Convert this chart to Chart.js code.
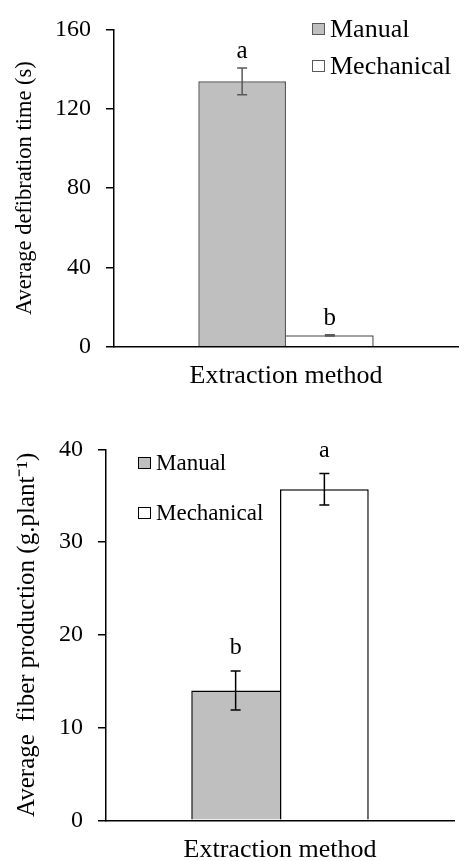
<!DOCTYPE html>
<html>
<head>
<meta charset="utf-8">
<script src="https://cdn.jsdelivr.net/npm/chart.js@4/dist/chart.umd.min.js"></script>
<style>
  html, body { margin: 0; padding: 0; background: #fff; overflow: hidden; }
  canvas { position: absolute; left: 0; }
  #timeChart { top: 0; }
  #fiberChart { top: 420px; }
</style>
</head>
<body>
<canvas id="timeChart" width="459" height="400"></canvas>
<canvas id="fiberChart" width="459" height="446"></canvas>
<script>
const methods = ['Manual', 'Mechanical'];
const fills = ['#bfbfbf', '#ffffff'];

// defibration time (s)
const timeValues = [133.8, 5.8];
const timeErrors = [6.7, 0.3];
const timeLetters = ['a', 'b'];
const timeTicks = [0, 40, 80, 120, 160];

// fiber production (g per plant)
const fiberValues = [14.0, 35.7];
const fiberErrors = [2.1, 1.7];
const fiberLetters = ['b', 'a'];
const fiberTicks = [0, 10, 20, 30, 40];

const serif = "'Liberation Serif', 'Times New Roman', serif";
const ink = '#000';

// error bars, significance letters and the little legend
const extras = {
    id: 'extras',
    afterDatasetsDraw(chart, args, opts) {
        const ctx = chart.ctx;
        const y = chart.scales.y;
        ctx.save();
        chart.data.datasets.forEach((ds, i) => {
            const bar = chart.getDatasetMeta(i).data[0];
            const v = ds.data[0];
            const e = opts.errors[i];
            const top = y.getPixelForValue(v + e);
            const bot = y.getPixelForValue(v - e);
            ctx.strokeStyle = opts.lineColor;
            ctx.lineWidth = 1.5;
            ctx.beginPath();
            ctx.moveTo(bar.x, top); ctx.lineTo(bar.x, bot);
            ctx.moveTo(bar.x - 5, top); ctx.lineTo(bar.x + 5, top);
            ctx.moveTo(bar.x - 5, bot); ctx.lineTo(bar.x + 5, bot);
            ctx.stroke();

            ctx.fillStyle = ink;
            ctx.font = opts.letterSize + 'px ' + serif;
            ctx.textAlign = 'center';
            ctx.textBaseline = 'alphabetic';
            ctx.fillText(opts.letters[i], bar.x, top - opts.letterGap);
        });

        const lg = opts.legend;
        ctx.font = lg.size + 'px ' + serif;
        ctx.textAlign = 'left';
        ctx.textBaseline = 'middle';
        chart.data.datasets.forEach((ds, i) => {
            const cy = lg.y + i * lg.step;
            ctx.fillStyle = ds.backgroundColor;
            ctx.fillRect(lg.x, cy - 6, 13, 12);
            ctx.strokeStyle = opts.lineColor;
            ctx.lineWidth = 1;
            ctx.strokeRect(lg.x + 0.5, cy - 5.5, 12, 11);
            ctx.fillStyle = ink;
            ctx.fillText(ds.label, lg.x + 18, cy + 1);
        });
        ctx.restore();
    }
};

function makeChart(id, values, ticks, opts) {
    const ctx = document.getElementById(id).getContext('2d');
    const w = opts.barBorder;
    // the taller bar owns the edge the two bars share
    const tall = values[0] >= values[1] ? 0 : 1;
    return new Chart(ctx, {
        type: 'bar',
        data: {
            labels: [''],
            datasets: methods.map((m, i) => ({
                label: m,
                data: [values[i]],
                backgroundColor: fills[i],
                borderColor: opts.lineColor,
                borderSkipped: false,
                borderWidth: i === 0
                    ? { top: w, left: w, right: tall === 0 ? w : 0, bottom: 0 }
                    : { top: w, left: tall === 1 ? w : 0, right: w, bottom: 0 },
                categoryPercentage: 0.51,
                barPercentage: 1
            }))
        },
        options: {
            responsive: false,
            devicePixelRatio: 1,
            animation: false,
            layout: { padding: { top: opts.padTop, right: opts.padRight, left: 0, bottom: 0 } },
            plugins: {
                legend: { display: false },
                tooltip: { enabled: false },
                extras: {
                    errors: opts.errors,
                    letters: opts.letters,
                    letterGap: opts.letterGap,
                    letterSize: opts.letterSize,
                    lineColor: opts.lineColor,
                    legend: opts.legend
                }
            },
            scales: {
                x: {
                    grid: { display: false, drawTicks: false },
                    border: { display: true, color: '#000', width: 1.5 },
                    ticks: { display: false },
                    title: {
                        display: true,
                        text: 'Extraction method',
                        color: ink,
                        font: { family: serif, size: 26 },
                        padding: { top: opts.xTitleTop, bottom: opts.xTitleBottom }
                    }
                },
                y: {
                    min: ticks[0],
                    max: ticks[ticks.length - 1],
                    afterBuildTicks: (s) => { s.ticks = ticks.map(v => ({ value: v })); },
                    afterFit: (s) => { s.width = opts.axisLeft; },
                    grid: { drawOnChartArea: false, drawTicks: true, tickLength: 8, color: '#000', lineWidth: 1.5 },
                    border: { display: true, color: '#000', width: 1.5 },
                    ticks: { color: ink, padding: 15, font: { family: serif, size: 24 } },
                    title: {
                        display: true,
                        text: opts.yTitle,
                        color: ink,
                        font: { family: serif, size: opts.yTitleSize },
                        padding: { top: opts.yTitlePad, bottom: 0 }
                    }
                }
            }
        },
        plugins: [extras]
    });
}

makeChart('timeChart', timeValues, timeTicks, {
    errors: timeErrors,
    letters: timeLetters,
    letterGap: 10,
    letterSize: 25,
    lineColor: '#595959',
    barBorder: 1.5,
    padTop: 27,
    padRight: 1,
    axisLeft: 114,
    xTitleTop: 14,
    xTitleBottom: 8,
    yTitle: 'Average defibration time (s)',
    yTitleSize: 22.5,
    yTitlePad: 12,
    legend: { x: 312, y: 29, step: 37, size: 26 }
});

makeChart('fiberChart', fiberValues, fiberTicks, {
    errors: fiberErrors,
    letters: fiberLetters,
    letterGap: 17,
    letterSize: 24,
    lineColor: '#000',
    barBorder: 1.5,
    padTop: 14,
    padRight: 5,
    axisLeft: 106,
    xTitleTop: 14.5,
    xTitleBottom: 0,
    yTitle: 'Average  fiber production (g.plant\u207B\u00B9)',
    yTitleSize: 25,
    yTitlePad: 12,
    legend: { x: 138, y: 43, step: 50, size: 23 }
});
</script>
</body>
</html>
